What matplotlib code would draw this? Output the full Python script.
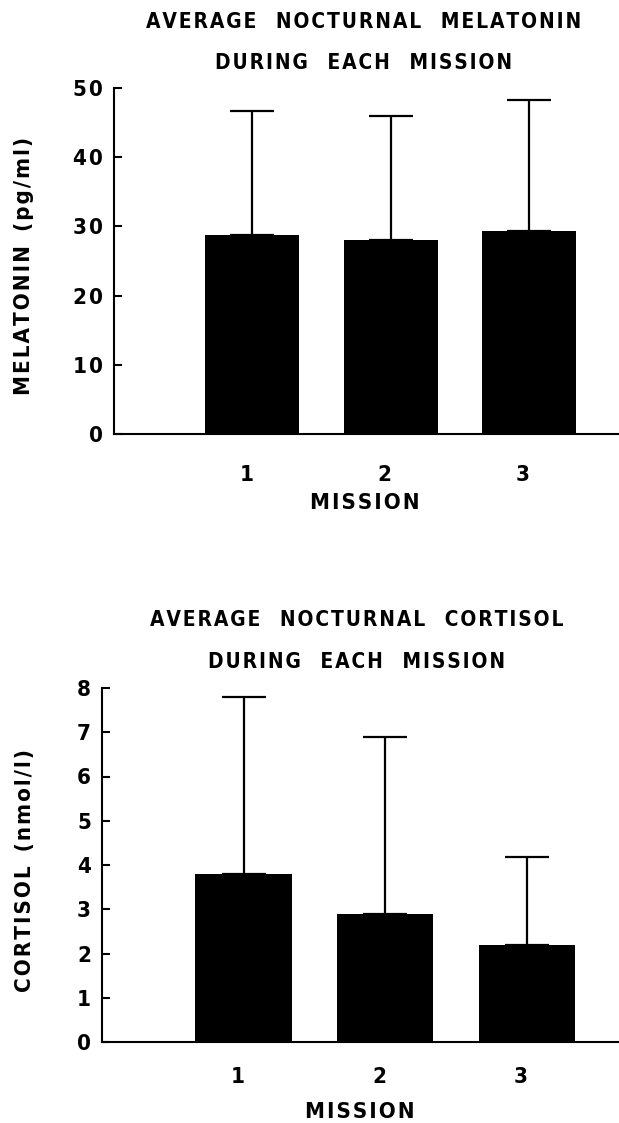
import matplotlib
matplotlib.use("Agg")
import matplotlib.pyplot as plt
import matplotlib.transforms as mtransforms
from matplotlib import font_manager
import numpy as np

# du lieu doc tu hinh
missions = [1, 2, 3]
mel_mean = [28.8, 28.1, 29.4]
mel_sd = [17.9, 17.9, 18.9]
cort_mean = [3.8, 2.9, 2.2]
cort_sd = [4.0, 4.0, 1.97]
mel_ticks = [0, 10, 20, 30, 40, 50]
cort_ticks = [0, 1, 2, 3, 4, 5, 6, 7, 8]

W, H = 619, 1123

# tim font hep (condensed) neu co, khong thi dung DejaVu Sans
fonts = font_manager.fontManager.ttflist
narrow = None
for f in fonts:
    if f.stretch in ("condensed", "semi-condensed", "extra-condensed") or \
            "Narrow" in f.name or "Condensed" in f.name:
        if f.weight in ("bold", 700, "heavy", 800, "black", 900):
            narrow = f
            break
if narrow is not None:
    FAMILY = [narrow.name, "DejaVu Sans"]
    STRETCH = narrow.stretch
    FS = 16
else:
    FAMILY = ["DejaVu Sans"]
    STRETCH = "normal"
    FS = 13
plt.rcParams["font.family"] = FAMILY
plt.rcParams["font.weight"] = "bold"
plt.rcParams["font.stretch"] = STRETCH

HAIR = "\u200a"


def spaced(s, wgap="  "):
    # gian chu kieu may danh chu cu
    return wgap.join(HAIR.join(w) for w in s.split(" "))


def fx(px):
    return px / W


def fy(py):
    return 1 - py / H


def panel(fig, rect, means, sds, ticks, ymax, title, ylabel, pos):
    ax = fig.add_axes(rect)
    ax.bar(missions, means, width=0.68, color="black", zorder=2)
    ax.errorbar(missions, means, yerr=[np.zeros(len(sds)), sds], fmt="none",
                ecolor="black", elinewidth=1.6, capsize=16, capthick=1.6, zorder=1)
    ax.set_xlim(0, 3.65)
    ax.set_ylim(0, ymax)
    ax.set_yticks(ticks)
    ax.set_yticklabels([spaced(str(t)) for t in ticks], fontsize=FS)
    ax.set_xticks(missions)
    ax.set_xticklabels([str(m) for m in missions], fontsize=FS)
    ax.tick_params(axis="x", length=0, pad=pos["xpad"])
    ax.tick_params(axis="y", direction="in", length=6, width=1.5, pad=8)
    # nhan truc x lech trai mot chut nhu ban goc
    off = mtransforms.ScaledTranslation(-6 / 100, 0, fig.dpi_scale_trans)
    for lab in ax.get_xticklabels():
        lab.set_transform(lab.get_transform() + off)
    for s in ("top", "right"):
        ax.spines[s].set_visible(False)
    for s in ("left", "bottom"):
        ax.spines[s].set_linewidth(1.5)
    t1, t2 = title
    fig.text(fx(pos["tx"]), fy(pos["t1"]), spaced(t1, "   "), ha="center",
             va="center", fontsize=FS - 1)
    fig.text(fx(pos["tx"]), fy(pos["t2"]), spaced(t2, "   "), ha="center",
             va="center", fontsize=FS - 1)
    fig.text(fx(pos["lx"]), fy(pos["ly"]), spaced(ylabel), rotation=90,
             ha="center", va="center", fontsize=FS)
    fig.text(fx(pos["mx"]), fy(pos["my"]), spaced("MISSION"), ha="center",
             va="center", fontsize=FS)
    return ax


fig = plt.figure(figsize=(W / 100, H / 100), dpi=100)

panel(fig, [fx(114), fy(434), 1 - fx(114), (434 - 88) / H],
      mel_mean, mel_sd, mel_ticks, 50,
      ("AVERAGE NOCTURNAL MELATONIN", "DURING EACH MISSION"),
      "MELATONIN (pg/ml)",
      dict(tx=364, t1=22, t2=63, lx=24, ly=266, mx=365, my=503, xpad=22))

panel(fig, [fx(102), fy(1042), 1 - fx(102), (1042 - 688) / H],
      cort_mean, cort_sd, cort_ticks, 8,
      ("AVERAGE NOCTURNAL CORTISOL", "DURING EACH MISSION"),
      "CORTISOL (nmol/l)",
      dict(tx=357, t1=620, t2=662, lx=25, ly=871, mx=360, my=1112, xpad=18))

fig.savefig("out.png", dpi=100)
